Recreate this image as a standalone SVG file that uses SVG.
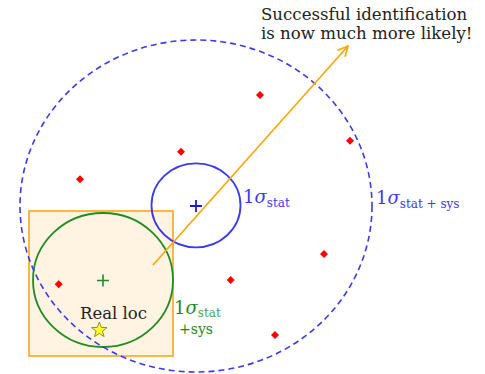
<svg xmlns="http://www.w3.org/2000/svg" width="485" height="374" viewBox="0 0 485 374">
<style>
text{font-family:"DejaVu Serif","Liberation Serif",serif}
.d{fill:#ff0000}
.big{font-size:18px}
.sub{font-size:12px}
</style>
<defs>
<marker id="ah" viewBox="0 0 12 12" refX="11" refY="6" markerWidth="12" markerHeight="12" markerUnits="userSpaceOnUse" orient="auto">
<path d="M1,1 L11,6 L1,11" fill="none" stroke="#ffa500" stroke-width="1.6"/>
</marker>
<path id="dm" d="M0,-4 L4,0 L0,4 L-4,0 Z"/>
</defs>
<rect width="485" height="374" fill="#ffffff"/>
<g id="box"><rect x="29" y="211" width="144" height="145" fill="#fff3e2" stroke="#ffb030" stroke-width="1.8"/></g>
<g id="green-circle"><ellipse cx="103" cy="280" rx="70" ry="67" fill="none" stroke="#228b22" stroke-width="1.8"/>
<path d="M97,280.5 H109 M103,274.5 V286.5" stroke="#228b22" stroke-width="1.6"/></g>
<g id="blue-circle"><ellipse cx="196" cy="205.3" rx="44.5" ry="42" fill="none" stroke="#3a3af0" stroke-width="1.8"/>
<path d="M190,206 H202 M196,200 V212" stroke="#1a1ad8" stroke-width="1.8"/></g>
<g id="big-circle"><ellipse cx="196" cy="206" rx="176" ry="166" fill="none" stroke="#3a3af0" stroke-width="1.6" stroke-dasharray="6,4"/></g>
<g id="sources">
<use href="#dm" x="260" y="95" class="d"/>
<use href="#dm" x="350" y="140.7" class="d"/>
<use href="#dm" x="181" y="151.7" class="d"/>
<use href="#dm" x="80" y="179.3" class="d"/>
<use href="#dm" x="324" y="254" class="d"/>
<use href="#dm" x="230.7" y="280" class="d"/>
<use href="#dm" x="58.7" y="284.3" class="d"/>
<use href="#dm" x="275" y="335" class="d"/>
</g>
<g id="connectors"><line x1="153" y1="265" x2="348" y2="46" stroke="#ffa500" stroke-width="1.6" marker-end="url(#ah)"/></g>
<g id="real-loc">
<polygon points="99.3,322 101.3,327.4 107,327.6 102.5,331.1 104.1,336.6 99.3,333.4 94.5,336.6 96.1,331.1 91.6,327.6 97.3,327.4" fill="#ffff33" stroke="#777700" stroke-width="0.8"/>
<text x="113.5" y="319" font-size="16.5" fill="#222" text-anchor="middle">Real loc</text>
</g>
<g id="labels">
<text x="243" y="203" fill="#3a3af0"><tspan class="big">1<tspan font-style="italic">σ</tspan></tspan><tspan class="sub" dy="4">stat</tspan></text>
<text x="376" y="204" fill="#3a3af0"><tspan class="big">1<tspan font-style="italic">σ</tspan></tspan><tspan class="sub" dy="4">stat + sys</tspan></text>
<text x="174" y="313.5" fill="#228b22"><tspan class="big">1<tspan font-style="italic">σ</tspan></tspan><tspan class="sub" dy="3" fill="#4aa84a">stat</tspan></text>
<text x="179" y="333.5" fill="#228b22" font-size="14">+sys</text>
<text font-size="16.6" fill="#222"><tspan x="261" y="20">Successful identification</tspan><tspan x="261" y="39">is now much more likely!</tspan></text>
</g>
</svg>
